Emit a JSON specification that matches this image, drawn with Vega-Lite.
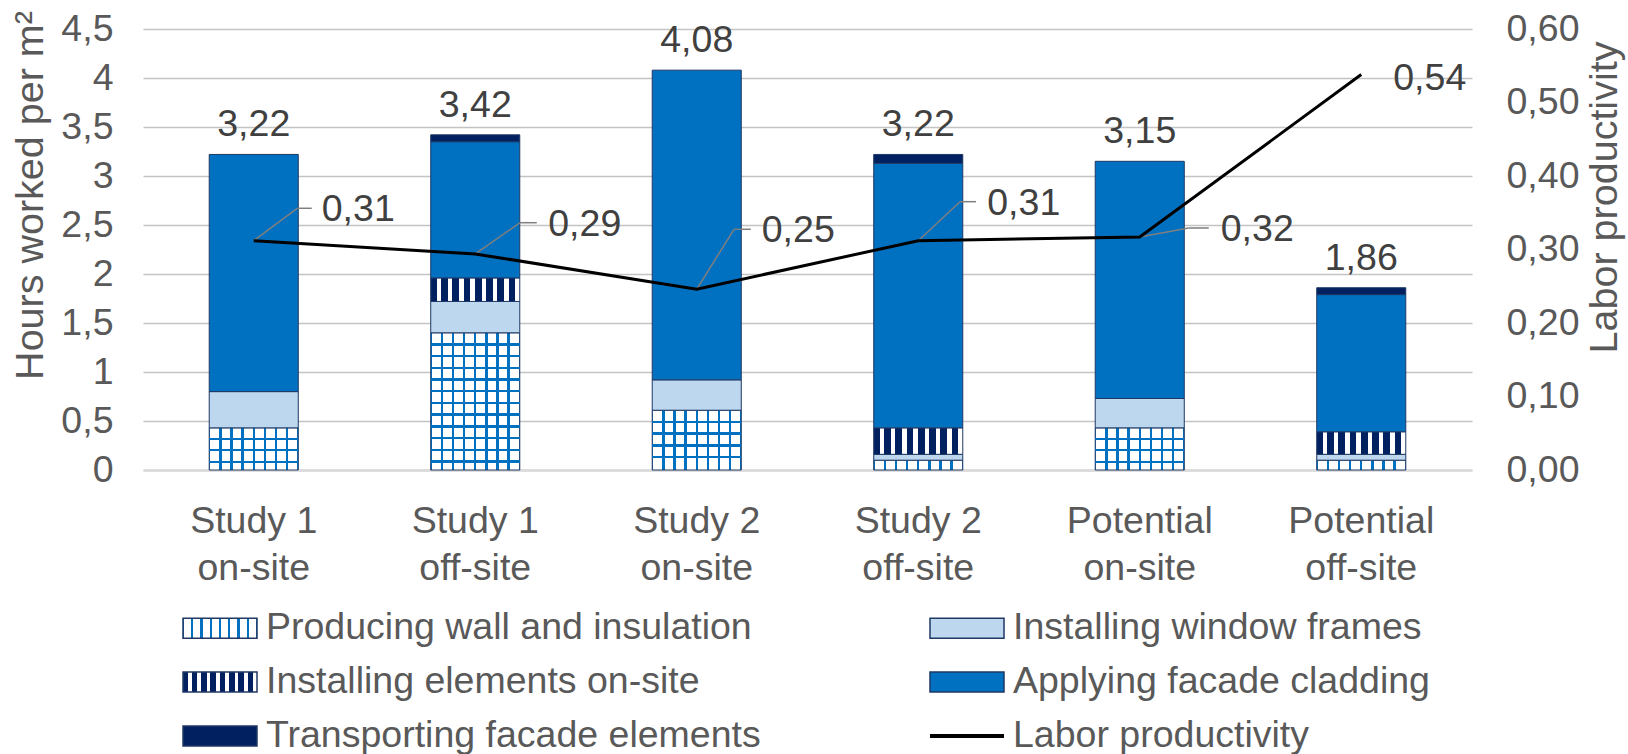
{
  "$schema": "https://vega.github.io/schema/vega-lite/v6.json",
  "width": 1329,
  "height": 441,
  "autosize": {"type": "none"},
  "padding": {"left": 143, "top": 29, "right": 156, "bottom": 284},
  "background": "white",
  "config": {
    "font": "Liberation Sans",
    "view": {"stroke": null},
    "locale": {"number": {"decimal": ",", "thousands": ".", "grouping": [3], "currency": ["", " €"]}},
    "axis": {"labelFontSize": 37.5, "labelColor": "#595959", "titleFontSize": 39.5, "titleColor": "#595959", "titleFontWeight": "normal", "ticks": false, "tickSize": 0}
  },
  "params": [
    {"name": "gWall", "expr": "{gradient: 'linear', x1: 0, y1: 0, x2: 1, y2: 0, stops: [{offset: 0, color: '#0070C0'}, {offset: 0.014, color: '#0070C0'}, {offset: 0.014, color: '#ffffff'}, {offset: 0.111, color: '#ffffff'}, {offset: 0.111, color: '#0070C0'}, {offset: 0.139, color: '#0070C0'}, {offset: 0.139, color: '#ffffff'}, {offset: 0.236, color: '#ffffff'}, {offset: 0.236, color: '#0070C0'}, {offset: 0.264, color: '#0070C0'}, {offset: 0.264, color: '#ffffff'}, {offset: 0.361, color: '#ffffff'}, {offset: 0.361, color: '#0070C0'}, {offset: 0.389, color: '#0070C0'}, {offset: 0.389, color: '#ffffff'}, {offset: 0.486, color: '#ffffff'}, {offset: 0.486, color: '#0070C0'}, {offset: 0.514, color: '#0070C0'}, {offset: 0.514, color: '#ffffff'}, {offset: 0.611, color: '#ffffff'}, {offset: 0.611, color: '#0070C0'}, {offset: 0.639, color: '#0070C0'}, {offset: 0.639, color: '#ffffff'}, {offset: 0.736, color: '#ffffff'}, {offset: 0.736, color: '#0070C0'}, {offset: 0.764, color: '#0070C0'}, {offset: 0.764, color: '#ffffff'}, {offset: 0.861, color: '#ffffff'}, {offset: 0.861, color: '#0070C0'}, {offset: 0.889, color: '#0070C0'}, {offset: 0.889, color: '#ffffff'}, {offset: 0.986, color: '#ffffff'}, {offset: 0.986, color: '#0070C0'}, {offset: 1, color: '#0070C0'}]}"},
    {"name": "gStripe", "expr": "{gradient: 'linear', x1: 0, y1: 0, x2: 1, y2: 0, stops: [{offset: 0, color: '#002060'}, {offset: 0.067, color: '#002060'}, {offset: 0.067, color: '#ffffff'}, {offset: 0.118, color: '#ffffff'}, {offset: 0.118, color: '#002060'}, {offset: 0.193, color: '#002060'}, {offset: 0.193, color: '#ffffff'}, {offset: 0.244, color: '#ffffff'}, {offset: 0.244, color: '#002060'}, {offset: 0.319, color: '#002060'}, {offset: 0.319, color: '#ffffff'}, {offset: 0.37, color: '#ffffff'}, {offset: 0.37, color: '#002060'}, {offset: 0.445, color: '#002060'}, {offset: 0.445, color: '#ffffff'}, {offset: 0.496, color: '#ffffff'}, {offset: 0.496, color: '#002060'}, {offset: 0.571, color: '#002060'}, {offset: 0.571, color: '#ffffff'}, {offset: 0.622, color: '#ffffff'}, {offset: 0.622, color: '#002060'}, {offset: 0.697, color: '#002060'}, {offset: 0.697, color: '#ffffff'}, {offset: 0.748, color: '#ffffff'}, {offset: 0.748, color: '#002060'}, {offset: 0.823, color: '#002060'}, {offset: 0.823, color: '#ffffff'}, {offset: 0.874, color: '#ffffff'}, {offset: 0.874, color: '#002060'}, {offset: 0.949, color: '#002060'}, {offset: 0.949, color: '#ffffff'}, {offset: 1, color: '#ffffff'}]}"},
    {"name": "gLine", "expr": "{gradient: 'linear', x1: 0, y1: 0, x2: 0, y2: 1, stops: [{offset: 0, color: 'transparent'}, {offset: 0.41, color: 'transparent'}, {offset: 0.41, color: '#000000'}, {offset: 0.59, color: '#000000'}, {offset: 0.59, color: 'transparent'}, {offset: 1, color: 'transparent'}]}"}
  ],
  "datasets": {
    "bars": [
      {"cat": "Study 1\non-site", "series": "Producing wall and insulation", "hours": 0.43},
      {"cat": "Study 1\non-site", "series": "Installing window frames", "hours": 0.37},
      {"cat": "Study 1\non-site", "series": "Applying facade cladding", "hours": 2.42},
      {"cat": "Study 1\noff-site", "series": "Producing wall and insulation", "hours": 1.40},
      {"cat": "Study 1\noff-site", "series": "Installing window frames", "hours": 0.32},
      {"cat": "Study 1\noff-site", "series": "Installing elements on-site", "hours": 0.24},
      {"cat": "Study 1\noff-site", "series": "Applying facade cladding", "hours": 1.39},
      {"cat": "Study 1\noff-site", "series": "Transporting facade elements", "hours": 0.07},
      {"cat": "Study 2\non-site", "series": "Producing wall and insulation", "hours": 0.61},
      {"cat": "Study 2\non-site", "series": "Installing window frames", "hours": 0.31},
      {"cat": "Study 2\non-site", "series": "Applying facade cladding", "hours": 3.16},
      {"cat": "Study 2\noff-site", "series": "Producing wall and insulation", "hours": 0.10},
      {"cat": "Study 2\noff-site", "series": "Installing window frames", "hours": 0.06},
      {"cat": "Study 2\noff-site", "series": "Installing elements on-site", "hours": 0.27},
      {"cat": "Study 2\noff-site", "series": "Applying facade cladding", "hours": 2.70},
      {"cat": "Study 2\noff-site", "series": "Transporting facade elements", "hours": 0.09},
      {"cat": "Potential\non-site", "series": "Producing wall and insulation", "hours": 0.43},
      {"cat": "Potential\non-site", "series": "Installing window frames", "hours": 0.30},
      {"cat": "Potential\non-site", "series": "Applying facade cladding", "hours": 2.42},
      {"cat": "Potential\noff-site", "series": "Producing wall and insulation", "hours": 0.10},
      {"cat": "Potential\noff-site", "series": "Installing window frames", "hours": 0.06},
      {"cat": "Potential\noff-site", "series": "Installing elements on-site", "hours": 0.23},
      {"cat": "Potential\noff-site", "series": "Applying facade cladding", "hours": 1.40},
      {"cat": "Potential\noff-site", "series": "Transporting facade elements", "hours": 0.07}
    ],
    "prod": [
      {"cat": "Study 1\non-site", "prod": 0.312},
      {"cat": "Study 1\noff-site", "prod": 0.294},
      {"cat": "Study 2\non-site", "prod": 0.246},
      {"cat": "Study 2\noff-site", "prod": 0.312},
      {"cat": "Potential\non-site", "prod": 0.317},
      {"cat": "Potential\noff-site", "prod": 0.538}
    ]
  },
  "encoding": {
    "x": {
      "field": "cat", "type": "nominal",
      "scale": {"type": "band", "domain": ["Study 1\non-site", "Study 1\noff-site", "Study 2\non-site", "Study 2\noff-site", "Potential\non-site", "Potential\noff-site"], "paddingInner": 0.598, "paddingOuter": 0.299},
      "axis": {"title": null, "labelExpr": "split(datum.label, '\\n')", "labelAngle": 0, "labelPadding": 32, "labelLineHeight": 47, "labelLimit": 500, "domain": true, "domainColor": "#D9D9D9", "domainWidth": 2.5, "grid": false}
    }
  },
  "layer": [
    {
      "data": {"name": "bars"},
      "transform": [
        {"calculate": "indexof(['Producing wall and insulation','Installing window frames','Installing elements on-site','Applying facade cladding','Transporting facade elements'], datum.series)", "as": "ord"},
        {"stack": "hours", "groupby": ["cat"], "sort": [{"field": "ord", "order": "ascending"}], "as": ["y0", "y1"]}
      ],
      "encoding": {
        "y": {
          "field": "y1", "type": "quantitative",
          "scale": {"domain": [0, 4.5], "nice": false},
          "axis": {"title": "Hours worked per m²", "values": [0, 0.5, 1, 1.5, 2, 2.5, 3, 3.5, 4, 4.5], "format": "~g", "labelPadding": 30, "domain": false, "grid": true, "gridColor": "#C4C4C4", "gridWidth": 1.5, "titleAngle": 270, "titleX": -101, "titleY": 166, "titleBaseline": "alphabetic", "titleAlign": "center"}
        }
      },
      "layer": [
        {
          "mark": {"type": "bar", "strokeWidth": 1},
          "encoding": {
            "y2": {"field": "y0"},
            "color": {
              "field": "series", "type": "nominal",
              "scale": {"domain": ["Producing wall and insulation", "Installing elements on-site", "Transporting facade elements", "Installing window frames", "Applying facade cladding", "Labor productivity"], "range": [{"expr": "gWall"}, {"expr": "gStripe"}, "#002060", "#BDD7EE", "#0070C0", {"expr": "gLine"}]},
              "legend": {
                "title": null, "orient": "none", "legendX": 39, "legendY": 578, "columns": 2, "columnPadding": 166, "rowPadding": 14, "padding": 0,
                "symbolSize": 1600, "symbolType": "M-1,-0.5H2.7V0.5H-1Z", "symbolStrokeWidth": 1.5, "labelOffset": 42, "labelFontSize": 37.5, "labelColor": "#595959", "labelLimit": 1000
              }
            },
            "stroke": {
              "field": "series", "type": "nominal",
              "scale": {"domain": ["Producing wall and insulation", "Installing elements on-site", "Transporting facade elements", "Installing window frames", "Applying facade cladding", "Labor productivity"], "range": ["#1F3864", "#1F3864", "#1F3864", "#1F3864", "#1F3864", "transparent"]},
              "legend": {
                "title": null, "orient": "none", "legendX": 39, "legendY": 578, "columns": 2, "columnPadding": 166, "rowPadding": 14, "padding": 0,
                "symbolSize": 1600, "symbolType": "M-1,-0.5H2.7V0.5H-1Z", "symbolStrokeWidth": 1.5, "labelOffset": 42, "labelFontSize": 37.5, "labelColor": "#595959", "labelLimit": 1000
              }
            }
          }
        },
        {
          "transform": [{"filter": {"and": [{"field": "series", "equal": "Producing wall and insulation"}, {"field": "cat", "oneOf": ["Study 1\non-site", "Potential\non-site"]}]}}],
          "mark": {"type": "bar", "strokeWidth": 0, "fill": {"gradient": "linear", "x1": 0, "y1": 0, "x2": 0, "y2": 1, "stops": [
            {"offset": 0, "color": "transparent"}, {"offset": 0.23, "color": "transparent"}, {"offset": 0.23, "color": "#0070C0"}, {"offset": 0.28, "color": "#0070C0"},
            {"offset": 0.28, "color": "transparent"}, {"offset": 0.507, "color": "transparent"}, {"offset": 0.507, "color": "#0070C0"}, {"offset": 0.559, "color": "#0070C0"},
            {"offset": 0.559, "color": "transparent"}, {"offset": 0.784, "color": "transparent"}, {"offset": 0.784, "color": "#0070C0"}, {"offset": 0.836, "color": "#0070C0"},
            {"offset": 0.836, "color": "transparent"}, {"offset": 1, "color": "transparent"}
          ]}},
          "encoding": {"y2": {"field": "y0"}}
        },
        {
          "transform": [{"filter": {"and": [{"field": "series", "equal": "Producing wall and insulation"}, {"field": "cat", "equal": "Study 1\noff-site"}]}}],
          "mark": {"type": "bar", "strokeWidth": 0, "fill": {"gradient": "linear", "x1": 0, "y1": 0, "x2": 0, "y2": 1, "stops": [
            {"offset": 0, "color": "transparent"}, {"offset": 0.076, "color": "transparent"}, {"offset": 0.076, "color": "#0070C0"}, {"offset": 0.094, "color": "#0070C0"},
            {"offset": 0.094, "color": "transparent"}, {"offset": 0.162, "color": "transparent"}, {"offset": 0.162, "color": "#0070C0"}, {"offset": 0.18, "color": "#0070C0"},
            {"offset": 0.18, "color": "transparent"}, {"offset": 0.247, "color": "transparent"}, {"offset": 0.247, "color": "#0070C0"}, {"offset": 0.265, "color": "#0070C0"},
            {"offset": 0.265, "color": "transparent"}, {"offset": 0.332, "color": "transparent"}, {"offset": 0.332, "color": "#0070C0"}, {"offset": 0.35, "color": "#0070C0"},
            {"offset": 0.35, "color": "transparent"}, {"offset": 0.417, "color": "transparent"}, {"offset": 0.417, "color": "#0070C0"}, {"offset": 0.435, "color": "#0070C0"},
            {"offset": 0.435, "color": "transparent"}, {"offset": 0.503, "color": "transparent"}, {"offset": 0.503, "color": "#0070C0"}, {"offset": 0.521, "color": "#0070C0"},
            {"offset": 0.521, "color": "transparent"}, {"offset": 0.588, "color": "transparent"}, {"offset": 0.588, "color": "#0070C0"}, {"offset": 0.606, "color": "#0070C0"},
            {"offset": 0.606, "color": "transparent"}, {"offset": 0.673, "color": "transparent"}, {"offset": 0.673, "color": "#0070C0"}, {"offset": 0.691, "color": "#0070C0"},
            {"offset": 0.691, "color": "transparent"}, {"offset": 0.759, "color": "transparent"}, {"offset": 0.759, "color": "#0070C0"}, {"offset": 0.777, "color": "#0070C0"},
            {"offset": 0.777, "color": "transparent"}, {"offset": 0.844, "color": "transparent"}, {"offset": 0.844, "color": "#0070C0"}, {"offset": 0.862, "color": "#0070C0"},
            {"offset": 0.862, "color": "transparent"}, {"offset": 0.929, "color": "transparent"}, {"offset": 0.929, "color": "#0070C0"}, {"offset": 0.947, "color": "#0070C0"},
            {"offset": 0.947, "color": "transparent"}, {"offset": 1, "color": "transparent"}
          ]}},
          "encoding": {"y2": {"field": "y0"}}
        },
        {
          "transform": [{"filter": {"and": [{"field": "series", "equal": "Producing wall and insulation"}, {"field": "cat", "equal": "Study 2\non-site"}]}}],
          "mark": {"type": "bar", "strokeWidth": 0, "fill": {"gradient": "linear", "x1": 0, "y1": 0, "x2": 0, "y2": 1, "stops": [
            {"offset": 0, "color": "transparent"}, {"offset": 0.176, "color": "transparent"}, {"offset": 0.176, "color": "#0070C0"}, {"offset": 0.216, "color": "#0070C0"},
            {"offset": 0.216, "color": "transparent"}, {"offset": 0.372, "color": "transparent"}, {"offset": 0.372, "color": "#0070C0"}, {"offset": 0.412, "color": "#0070C0"},
            {"offset": 0.412, "color": "transparent"}, {"offset": 0.567, "color": "transparent"}, {"offset": 0.567, "color": "#0070C0"}, {"offset": 0.607, "color": "#0070C0"},
            {"offset": 0.607, "color": "transparent"}, {"offset": 0.763, "color": "transparent"}, {"offset": 0.763, "color": "#0070C0"}, {"offset": 0.803, "color": "#0070C0"},
            {"offset": 0.803, "color": "transparent"}, {"offset": 1, "color": "transparent"}
          ]}},
          "encoding": {"y2": {"field": "y0"}}
        },
        {
          "transform": [{"aggregate": [{"op": "max", "field": "y1", "as": "y1"}], "groupby": ["cat"]}],
          "mark": {"type": "text", "baseline": "bottom", "dy": -10, "fontSize": 37.5, "color": "#404040"},
          "encoding": {
            "text": {"field": "y1", "type": "quantitative", "format": ".2f"}
          }
        }
      ]
    },
    {
      "data": {"name": "prod"},
      "encoding": {
        "y": {
          "field": "prod", "type": "quantitative",
          "scale": {"domain": [0, 0.6], "nice": false},
          "axis": {"orient": "right", "title": "Labor productivity", "values": [0, 0.1, 0.2, 0.3, 0.4, 0.5, 0.6], "format": ".2f", "labelPadding": 34, "domain": false, "grid": false, "titleAngle": 270, "titleX": 144, "titleY": 168, "titleBaseline": "alphabetic", "titleAlign": "center"}
        }
      },
      "layer": [
        {
          "transform": [{"filter": {"field": "cat", "equal": "Study 1\non-site"}}],
          "layer": [
            {"mark": {"type": "rule", "color": "#7F7F7F", "strokeWidth": 1.5, "x2Offset": 43.5, "y2Offset": -32.4}, "encoding": {"x2": {"field": "cat"}, "y2": {"field": "prod"}}},
            {"mark": {"type": "rule", "color": "#7F7F7F", "strokeWidth": 1.5, "xOffset": 43.5, "yOffset": -32.4, "x2Offset": 58, "y2Offset": -32.4}, "encoding": {"x2": {"field": "cat"}, "y2": {"field": "prod"}}},
            {"mark": {"type": "text", "align": "left", "baseline": "middle", "dx": 68, "dy": -31, "fontSize": 37.5, "color": "#404040"}, "encoding": {"text": {"field": "prod", "type": "quantitative", "format": ".2f"}}}
          ]
        },
        {
          "transform": [{"filter": {"field": "cat", "equal": "Study 1\noff-site"}}],
          "layer": [
            {"mark": {"type": "rule", "color": "#7F7F7F", "strokeWidth": 1.5, "x2Offset": 44.75, "y2Offset": -31.2}, "encoding": {"x2": {"field": "cat"}, "y2": {"field": "prod"}}},
            {"mark": {"type": "rule", "color": "#7F7F7F", "strokeWidth": 1.5, "xOffset": 44.75, "yOffset": -31.2, "x2Offset": 61.5, "y2Offset": -31.2}, "encoding": {"x2": {"field": "cat"}, "y2": {"field": "prod"}}},
            {"mark": {"type": "text", "align": "left", "baseline": "middle", "dx": 73, "dy": -29, "fontSize": 37.5, "color": "#404040"}, "encoding": {"text": {"field": "prod", "type": "quantitative", "format": ".2f"}}}
          ]
        },
        {
          "transform": [{"filter": {"field": "cat", "equal": "Study 2\non-site"}}],
          "layer": [
            {"mark": {"type": "rule", "color": "#7F7F7F", "strokeWidth": 1.5, "x2Offset": 37.25, "y2Offset": -59.9}, "encoding": {"x2": {"field": "cat"}, "y2": {"field": "prod"}}},
            {"mark": {"type": "rule", "color": "#7F7F7F", "strokeWidth": 1.5, "xOffset": 37.25, "yOffset": -59.9, "x2Offset": 54, "y2Offset": -59.9}, "encoding": {"x2": {"field": "cat"}, "y2": {"field": "prod"}}},
            {"mark": {"type": "text", "align": "left", "baseline": "middle", "dx": 65, "dy": -58, "fontSize": 37.5, "color": "#404040"}, "encoding": {"text": {"field": "prod", "type": "quantitative", "format": ".2f"}}}
          ]
        },
        {
          "transform": [{"filter": {"field": "cat", "equal": "Study 2\noff-site"}}],
          "layer": [
            {"mark": {"type": "rule", "color": "#7F7F7F", "strokeWidth": 1.5, "x2Offset": 41.75, "y2Offset": -39}, "encoding": {"x2": {"field": "cat"}, "y2": {"field": "prod"}}},
            {"mark": {"type": "rule", "color": "#7F7F7F", "strokeWidth": 1.5, "xOffset": 41.75, "yOffset": -39, "x2Offset": 57.75, "y2Offset": -39}, "encoding": {"x2": {"field": "cat"}, "y2": {"field": "prod"}}},
            {"mark": {"type": "text", "align": "left", "baseline": "middle", "dx": 69, "dy": -37, "fontSize": 37.5, "color": "#404040"}, "encoding": {"text": {"field": "prod", "type": "quantitative", "format": ".2f"}}}
          ]
        },
        {
          "transform": [{"filter": {"field": "cat", "equal": "Potential\non-site"}}],
          "layer": [
            {"mark": {"type": "rule", "color": "#7F7F7F", "strokeWidth": 1.5, "x2Offset": 49, "y2Offset": -9}, "encoding": {"x2": {"field": "cat"}, "y2": {"field": "prod"}}},
            {"mark": {"type": "rule", "color": "#7F7F7F", "strokeWidth": 1.5, "xOffset": 49, "yOffset": -9, "x2Offset": 69, "y2Offset": -9}, "encoding": {"x2": {"field": "cat"}, "y2": {"field": "prod"}}},
            {"mark": {"type": "text", "align": "left", "baseline": "middle", "dx": 81, "dy": -7, "fontSize": 37.5, "color": "#404040"}, "encoding": {"text": {"field": "prod", "type": "quantitative", "format": ".2f"}}}
          ]
        },
        {
          "mark": {"type": "line", "color": "#000000", "strokeWidth": 3}
        },
        {
          "transform": [{"filter": {"field": "cat", "equal": "Potential\noff-site"}}],
          "mark": {"type": "text", "align": "left", "baseline": "middle", "dx": 32, "dy": 4, "fontSize": 37.5, "color": "#404040"},
          "encoding": {"text": {"field": "prod", "type": "quantitative", "format": ".2f"}}
        }
      ]
    }
  ],
  "resolve": {"scale": {"y": "independent"}}
}
